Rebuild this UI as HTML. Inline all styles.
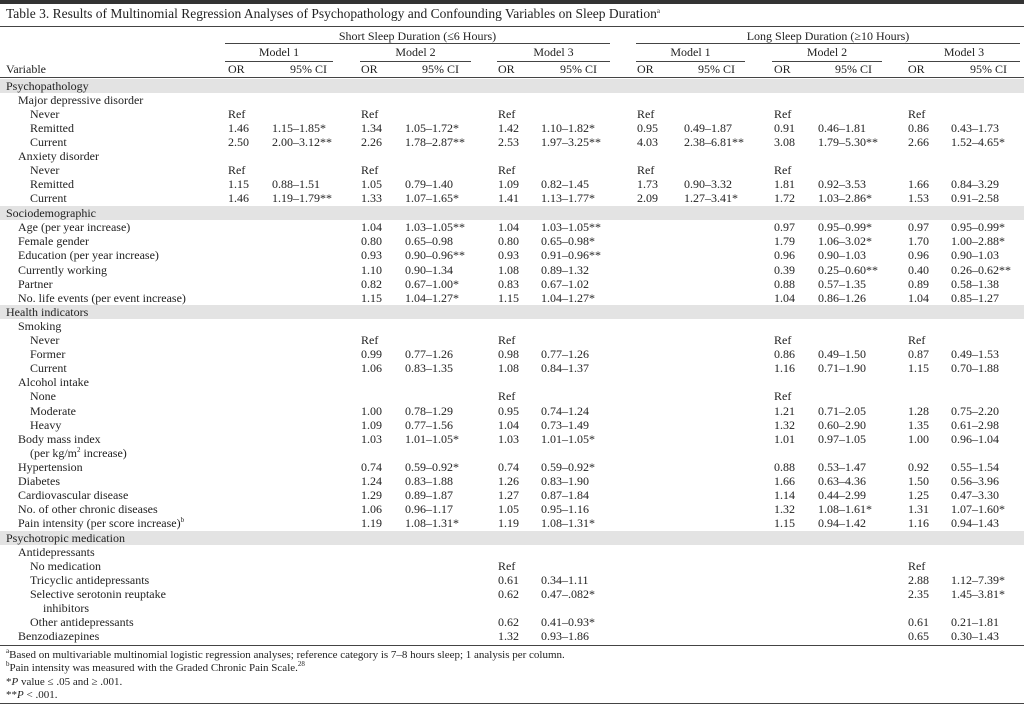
<!DOCTYPE html>
<html><head><meta charset="utf-8"><style>
body{margin:0;width:1024px;height:709px;background:#fff;position:relative;overflow:hidden;font-family:"Liberation Serif",serif;color:#222;font-size:12px}
div,span{position:absolute;white-space:nowrap}
.r{left:0;width:1024px;height:14px;line-height:14px}
.g{background:#e3e3e3}
.l0{left:6px}.l1{left:18px}.l2{left:30px}.l3{left:43px}
.a{left:228px}.b{left:272px}.c{left:361px}.d{left:405px}.e{left:498px}.f{left:541px}
.h{left:637px}.i{left:684px}.j{left:774px}.k{left:818px}.m{left:908px}.n{left:951px}
.ln{height:1px;background:#444}
.fn{left:6px;font-size:11px;line-height:13px}
sup{font-size:7px;line-height:0;vertical-align:baseline;position:relative;top:-5px}
</style></head><body>
<div style="left:0;top:0;width:1024px;height:4px;background:#333"></div>
<div style="left:6px;top:5px;font-size:13.5px;line-height:18px">Table 3. Results of Multinomial Regression Analyses of Psychopathology and Confounding Variables on Sleep Duration<sup>a</sup></div>
<div class="ln" style="left:0;top:26px;width:1024px"></div>
<div style="left:225px;top:29px;width:385px;text-align:center;line-height:14px">Short Sleep Duration (≤6 Hours)</div>
<div style="left:636px;top:29px;width:384px;text-align:center;line-height:14px">Long Sleep Duration (≥10 Hours)</div>
<div class="ln" style="left:225px;top:43px;width:385px"></div>
<div class="ln" style="left:636px;top:43px;width:384px"></div>
<div style="left:225px;top:45px;width:108px;text-align:center;line-height:14px">Model 1</div>
<div style="left:360px;top:45px;width:111px;text-align:center;line-height:14px">Model 2</div>
<div style="left:497px;top:45px;width:113px;text-align:center;line-height:14px">Model 3</div>
<div style="left:636px;top:45px;width:109px;text-align:center;line-height:14px">Model 1</div>
<div style="left:772px;top:45px;width:110px;text-align:center;line-height:14px">Model 2</div>
<div style="left:908px;top:45px;width:112px;text-align:center;line-height:14px">Model 3</div>
<div class="ln" style="left:225px;top:61px;width:108px"></div>
<div class="ln" style="left:360px;top:61px;width:111px"></div>
<div class="ln" style="left:497px;top:61px;width:113px"></div>
<div class="ln" style="left:636px;top:61px;width:109px"></div>
<div class="ln" style="left:772px;top:61px;width:110px"></div>
<div class="ln" style="left:908px;top:61px;width:112px"></div>
<div class="r" style="top:62px"><span class="l0">Variable</span><span class="a">OR</span><span style="left:290px">95% CI</span><span class="c">OR</span><span style="left:422px">95% CI</span><span class="e">OR</span><span style="left:560px">95% CI</span><span class="h">OR</span><span style="left:698px">95% CI</span><span class="j">OR</span><span style="left:835px">95% CI</span><span class="m">OR</span><span style="left:970px">95% CI</span></div>
<div class="ln" style="left:0;top:77px;width:1024px"></div>

<div class="r g" style="top:79px"><span class="l0">Psychopathology</span></div>
<div class="r" style="top:93px"><span class="l1">Major depressive disorder</span></div>
<div class="r" style="top:107px"><span class="l2">Never</span><span class="a">Ref</span><span class="c">Ref</span><span class="e">Ref</span><span class="h">Ref</span><span class="j">Ref</span><span class="m">Ref</span></div>
<div class="r" style="top:121px"><span class="l2">Remitted</span><span class="a">1.46</span><span class="b">1.15–1.85*</span><span class="c">1.34</span><span class="d">1.05–1.72*</span><span class="e">1.42</span><span class="f">1.10–1.82*</span><span class="h">0.95</span><span class="i">0.49–1.87</span><span class="j">0.91</span><span class="k">0.46–1.81</span><span class="m">0.86</span><span class="n">0.43–1.73</span></div>
<div class="r" style="top:135px"><span class="l2">Current</span><span class="a">2.50</span><span class="b">2.00–3.12**</span><span class="c">2.26</span><span class="d">1.78–2.87**</span><span class="e">2.53</span><span class="f">1.97–3.25**</span><span class="h">4.03</span><span class="i">2.38–6.81**</span><span class="j">3.08</span><span class="k">1.79–5.30**</span><span class="m">2.66</span><span class="n">1.52–4.65*</span></div>
<div class="r" style="top:149px"><span class="l1">Anxiety disorder</span></div>
<div class="r" style="top:163px"><span class="l2">Never</span><span class="a">Ref</span><span class="c">Ref</span><span class="e">Ref</span><span class="h">Ref</span><span class="j">Ref</span></div>
<div class="r" style="top:177px"><span class="l2">Remitted</span><span class="a">1.15</span><span class="b">0.88–1.51</span><span class="c">1.05</span><span class="d">0.79–1.40</span><span class="e">1.09</span><span class="f">0.82–1.45</span><span class="h">1.73</span><span class="i">0.90–3.32</span><span class="j">1.81</span><span class="k">0.92–3.53</span><span class="m">1.66</span><span class="n">0.84–3.29</span></div>
<div class="r" style="top:191px"><span class="l2">Current</span><span class="a">1.46</span><span class="b">1.19–1.79**</span><span class="c">1.33</span><span class="d">1.07–1.65*</span><span class="e">1.41</span><span class="f">1.13–1.77*</span><span class="h">2.09</span><span class="i">1.27–3.41*</span><span class="j">1.72</span><span class="k">1.03–2.86*</span><span class="m">1.53</span><span class="n">0.91–2.58</span></div>
<div class="r g" style="top:206px"><span class="l0">Sociodemographic</span></div>
<div class="r" style="top:220px"><span class="l1">Age (per year increase)</span><span class="c">1.04</span><span class="d">1.03–1.05**</span><span class="e">1.04</span><span class="f">1.03–1.05**</span><span class="j">0.97</span><span class="k">0.95–0.99*</span><span class="m">0.97</span><span class="n">0.95–0.99*</span></div>
<div class="r" style="top:234px"><span class="l1">Female gender</span><span class="c">0.80</span><span class="d">0.65–0.98</span><span class="e">0.80</span><span class="f">0.65–0.98*</span><span class="j">1.79</span><span class="k">1.06–3.02*</span><span class="m">1.70</span><span class="n">1.00–2.88*</span></div>
<div class="r" style="top:248px"><span class="l1">Education (per year increase)</span><span class="c">0.93</span><span class="d">0.90–0.96**</span><span class="e">0.93</span><span class="f">0.91–0.96**</span><span class="j">0.96</span><span class="k">0.90–1.03</span><span class="m">0.96</span><span class="n">0.90–1.03</span></div>
<div class="r" style="top:263px"><span class="l1">Currently working</span><span class="c">1.10</span><span class="d">0.90–1.34</span><span class="e">1.08</span><span class="f">0.89–1.32</span><span class="j">0.39</span><span class="k">0.25–0.60**</span><span class="m">0.40</span><span class="n">0.26–0.62**</span></div>
<div class="r" style="top:277px"><span class="l1">Partner</span><span class="c">0.82</span><span class="d">0.67–1.00*</span><span class="e">0.83</span><span class="f">0.67–1.02</span><span class="j">0.88</span><span class="k">0.57–1.35</span><span class="m">0.89</span><span class="n">0.58–1.38</span></div>
<div class="r" style="top:291px"><span class="l1">No. life events (per event increase)</span><span class="c">1.15</span><span class="d">1.04–1.27*</span><span class="e">1.15</span><span class="f">1.04–1.27*</span><span class="j">1.04</span><span class="k">0.86–1.26</span><span class="m">1.04</span><span class="n">0.85–1.27</span></div>
<div class="r g" style="top:305px"><span class="l0">Health indicators</span></div>
<div class="r" style="top:319px"><span class="l1">Smoking</span></div>
<div class="r" style="top:333px"><span class="l2">Never</span><span class="c">Ref</span><span class="e">Ref</span><span class="j">Ref</span><span class="m">Ref</span></div>
<div class="r" style="top:347px"><span class="l2">Former</span><span class="c">0.99</span><span class="d">0.77–1.26</span><span class="e">0.98</span><span class="f">0.77–1.26</span><span class="j">0.86</span><span class="k">0.49–1.50</span><span class="m">0.87</span><span class="n">0.49–1.53</span></div>
<div class="r" style="top:361px"><span class="l2">Current</span><span class="c">1.06</span><span class="d">0.83–1.35</span><span class="e">1.08</span><span class="f">0.84–1.37</span><span class="j">1.16</span><span class="k">0.71–1.90</span><span class="m">1.15</span><span class="n">0.70–1.88</span></div>
<div class="r" style="top:375px"><span class="l1">Alcohol intake</span></div>
<div class="r" style="top:389px"><span class="l2">None</span><span class="e">Ref</span><span class="j">Ref</span></div>
<div class="r" style="top:404px"><span class="l2">Moderate</span><span class="c">1.00</span><span class="d">0.78–1.29</span><span class="e">0.95</span><span class="f">0.74–1.24</span><span class="j">1.21</span><span class="k">0.71–2.05</span><span class="m">1.28</span><span class="n">0.75–2.20</span></div>
<div class="r" style="top:418px"><span class="l2">Heavy</span><span class="c">1.09</span><span class="d">0.77–1.56</span><span class="e">1.04</span><span class="f">0.73–1.49</span><span class="j">1.32</span><span class="k">0.60–2.90</span><span class="m">1.35</span><span class="n">0.61–2.98</span></div>
<div class="r" style="top:432px"><span class="l1">Body mass index</span><span class="c">1.03</span><span class="d">1.01–1.05*</span><span class="e">1.03</span><span class="f">1.01–1.05*</span><span class="j">1.01</span><span class="k">0.97–1.05</span><span class="m">1.00</span><span class="n">0.96–1.04</span></div>
<div class="r" style="top:446px"><span class="l2">(per kg/m<sup>2</sup> increase)</span></div>
<div class="r" style="top:460px"><span class="l1">Hypertension</span><span class="c">0.74</span><span class="d">0.59–0.92*</span><span class="e">0.74</span><span class="f">0.59–0.92*</span><span class="j">0.88</span><span class="k">0.53–1.47</span><span class="m">0.92</span><span class="n">0.55–1.54</span></div>
<div class="r" style="top:474px"><span class="l1">Diabetes</span><span class="c">1.24</span><span class="d">0.83–1.88</span><span class="e">1.26</span><span class="f">0.83–1.90</span><span class="j">1.66</span><span class="k">0.63–4.36</span><span class="m">1.50</span><span class="n">0.56–3.96</span></div>
<div class="r" style="top:488px"><span class="l1">Cardiovascular disease</span><span class="c">1.29</span><span class="d">0.89–1.87</span><span class="e">1.27</span><span class="f">0.87–1.84</span><span class="j">1.14</span><span class="k">0.44–2.99</span><span class="m">1.25</span><span class="n">0.47–3.30</span></div>
<div class="r" style="top:502px"><span class="l1">No. of other chronic diseases</span><span class="c">1.06</span><span class="d">0.96–1.17</span><span class="e">1.05</span><span class="f">0.95–1.16</span><span class="j">1.32</span><span class="k">1.08–1.61*</span><span class="m">1.31</span><span class="n">1.07–1.60*</span></div>
<div class="r" style="top:516px"><span class="l1">Pain intensity (per score increase)<sup>b</sup></span><span class="c">1.19</span><span class="d">1.08–1.31*</span><span class="e">1.19</span><span class="f">1.08–1.31*</span><span class="j">1.15</span><span class="k">0.94–1.42</span><span class="m">1.16</span><span class="n">0.94–1.43</span></div>
<div class="r g" style="top:531px"><span class="l0">Psychotropic medication</span></div>
<div class="r" style="top:545px"><span class="l1">Antidepressants</span></div>
<div class="r" style="top:559px"><span class="l2">No medication</span><span class="e">Ref</span><span class="m">Ref</span></div>
<div class="r" style="top:573px"><span class="l2">Tricyclic antidepressants</span><span class="e">0.61</span><span class="f">0.34–1.11</span><span class="m">2.88</span><span class="n">1.12–7.39*</span></div>
<div class="r" style="top:587px"><span class="l2">Selective serotonin reuptake</span><span class="e">0.62</span><span class="f">0.47–.082*</span><span class="m">2.35</span><span class="n">1.45–3.81*</span></div>
<div class="r" style="top:601px"><span class="l3">inhibitors</span></div>
<div class="r" style="top:615px"><span class="l2">Other antidepressants</span><span class="e">0.62</span><span class="f">0.41–0.93*</span><span class="m">0.61</span><span class="n">0.21–1.81</span></div>
<div class="r" style="top:629px"><span class="l1">Benzodiazepines</span><span class="e">1.32</span><span class="f">0.93–1.86</span><span class="m">0.65</span><span class="n">0.30–1.43</span></div>
<div class="ln" style="left:0;top:645px;width:1024px"></div>
<div class="fn" style="top:649px"><sup>a</sup>Based on multivariable multinomial logistic regression analyses; reference category is 7–8 hours sleep; 1 analysis per column.</div>
<div class="fn" style="top:662px"><sup>b</sup>Pain intensity was measured with the Graded Chronic Pain Scale.<sup>28</sup></div>
<div class="fn" style="top:676px">*<i>P</i> value ≤ .05 and ≥ .001.</div>
<div class="fn" style="top:689px">**<i>P</i> &lt; .001.</div>
<div class="ln" style="left:0;top:703px;width:1024px"></div>
</body></html>
